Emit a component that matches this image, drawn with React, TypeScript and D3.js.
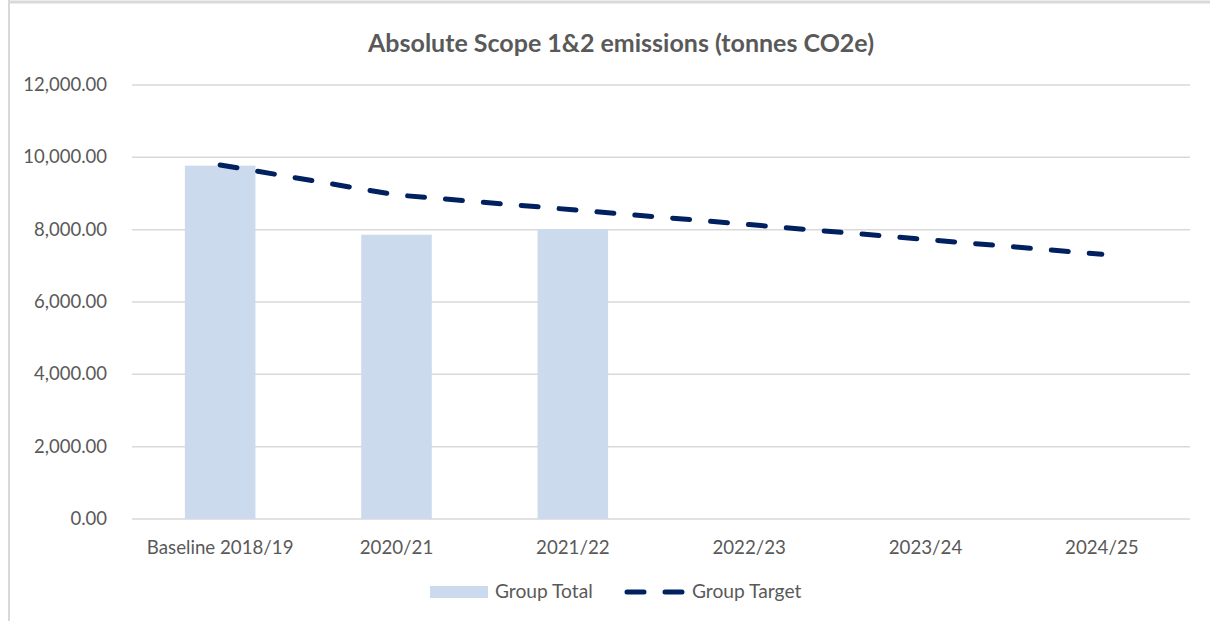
import React from "react";
import * as d3 from "d3";

const categories = ["Baseline 2018/19", "2020/21", "2021/22", "2022/23", "2023/24", "2024/25"];
const groupTotal: (number | null)[] = [9770, 7860, 8010, null, null, null];
const groupTarget = [9790, 8960, 8550, 8140, 7730, 7320];
const yTicks = [0, 2000, 4000, 6000, 8000, 10000, 12000];
const title = "Absolute Scope 1&2 emissions (tonnes CO2e)";

const W = 1210;
const H = 621;
const FONT = "Lato, 'Open Sans', sans-serif";
const TEXT = "#595959";
const BAR = "#cbdaed";
const LINE = "#002060";

export default function App() {
  const x = d3.scaleBand<string>().domain(categories).range([132, 1190]).padding(0);
  const y = d3.scaleLinear().domain([0, 12000]).range([519, 85]);
  const fmt = d3.format(",.2f");
  const bw = x.bandwidth() * 0.4;
  const line = d3
    .line<number>()
    .x((_, i) => (x(categories[i]) as number) + x.bandwidth() / 2)
    .y((d) => y(d));

  return (
    <svg width={W} height={H} style={{ position: "absolute", left: 0, top: 0, background: "#fff" }}>
      <rect x={0} y={0} width={W} height={H} fill="#fff" />
      <line x1={9} x2={W} y1={2} y2={2} stroke="#d9d9d9" strokeWidth={3} />
      <line x1={9} x2={9} y1={0} y2={H} stroke="#d9d9d9" strokeWidth={2} />
      <text x={621} y={52} textAnchor="middle" fontFamily={FONT} fontWeight={700} fontSize={25} fill={TEXT}>
        {title}
      </text>
      {yTicks.map((t) => (
        <g key={t}>
          <line x1={132} x2={1190} y1={y(t)} y2={y(t)} stroke="#d9d9d9" strokeWidth={1.5} />
          <text x={107} y={y(t) + 6} textAnchor="end" fontFamily={FONT} fontSize={18.5} fill={TEXT}>
            {fmt(t)}
          </text>
        </g>
      ))}
      {categories.map((c, i) => {
        const v = groupTotal[i];
        const cx = (x(c) as number) + x.bandwidth() / 2;
        return (
          <g key={c}>
            {v != null && (
              <rect x={cx - bw / 2} y={y(v)} width={bw} height={y(0) - y(v)} fill={BAR} />
            )}
            <text x={cx} y={554} textAnchor="middle" fontFamily={FONT} fontSize={18.7} fill={TEXT}>
              {c}
            </text>
          </g>
        );
      })}
      <path
        d={line(groupTarget) || ""}
        fill="none"
        stroke={LINE}
        strokeWidth={5}
        strokeDasharray="17 21"
        strokeLinecap="round"
      />
      <rect x={430} y={586} width={58} height={12} fill={BAR} />
      <text x={495} y={598} fontFamily={FONT} fontSize={19.2} fill={TEXT}>
        Group Total
      </text>
      <path d="M627,592 L682,592" stroke={LINE} strokeWidth={5} strokeDasharray="17 21" strokeLinecap="round" />
      <text x={692} y={598} fontFamily={FONT} fontSize={19.2} fill={TEXT}>
        Group Target
      </text>
    </svg>
  );
}
